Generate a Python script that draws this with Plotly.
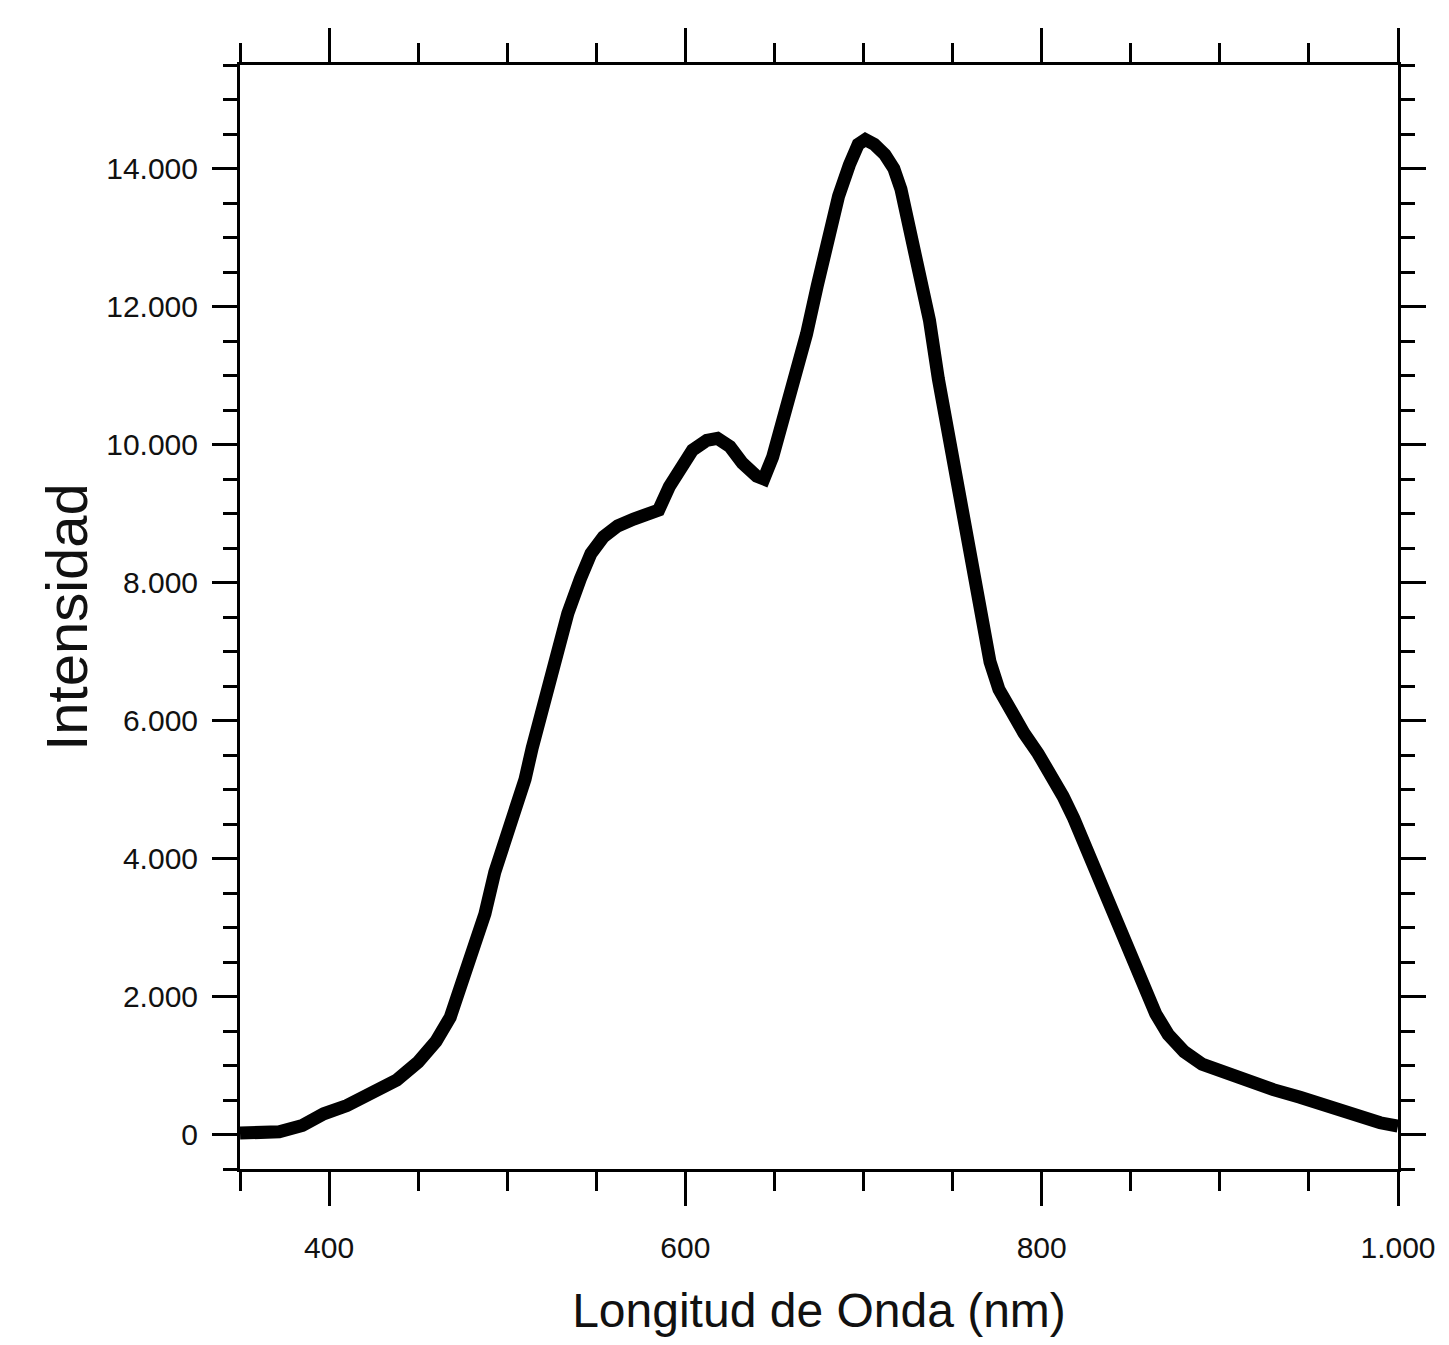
import plotly.graph_objects as go

# Wavelength (nm) and intensity
wavelength = [350, 360, 372, 385, 397, 410, 420, 438, 450, 460, 468, 475, 481, 487.5,
              493, 499, 505, 510, 514, 519, 524, 529, 534, 541, 547, 554, 562, 571,
              580, 585, 591, 597, 604, 612, 618, 625, 632, 640, 644, 649, 655, 662,
              668, 674, 680, 686, 692, 697, 701, 706, 712, 717, 721, 726, 731, 737,
              742, 747, 752, 757, 762, 766, 771, 776, 783, 790, 798, 806, 812, 818,
              825, 833, 840, 848, 856, 864, 871, 880, 890, 900, 915, 930, 945, 960,
              975, 990, 1000]
intensity = [20, 10, 40, 130, 300, 420, 560, 790, 1050, 1350, 1700, 2200, 2700, 3200,
             3800, 4250, 4800, 5150, 5600, 6100, 6600, 7100, 7550, 8050, 8420, 8660, 8820, 8920,
             8980, 9050, 9390, 9680, 9920, 10060, 10090, 9970, 9730, 9540, 9500, 9820, 10400, 10950,
             11600, 12300, 13000, 13600, 14050, 14350, 14420, 14350, 14200, 14000, 13700, 13150, 12550, 11800,
             10950, 10250, 9500, 8700, 8000, 7450, 6850, 6450, 6100, 5820, 5520, 5200, 4900, 4580,
             4150, 3640, 3150, 2650, 2150, 1750, 1450, 1200, 1020, 920, 780, 650, 540, 410,
             280, 170, 120]

x_title = "Longitud de Onda (nm)"
y_title = "Intensidad"

FONT = "Liberation Sans, Arial, sans-serif"
tick_font = dict(family=FONT, size=30, color="#111111")

fig = go.Figure()
fig.add_trace(go.Scatter(
    x=wavelength, y=intensity, mode="lines",
    line=dict(color="black", width=13),
    showlegend=False,
))

axis_common = dict(
    showline=True, linecolor="black", linewidth=3,
    mirror="ticks", ticks="outside", tickcolor="black", tickwidth=3,
    showgrid=False, zeroline=False, tickfont=tick_font, automargin=False,
)

fig.update_xaxes(
    **axis_common,
    range=[350, 1000], tick0=0, dtick=200, ticklen=34,
    tickformat=",.0f",
    minor=dict(dtick=50, tick0=0, ticklen=19, tickwidth=3, tickcolor="black", ticks="outside", showgrid=False),
    title=dict(text=x_title, font=dict(family=FONT, size=48, color="#111111"), standoff=44),
    ticklabelstandoff=16,
)
fig.update_yaxes(
    **axis_common,
    range=[-500, 15500], tick0=0, dtick=2000, ticklen=25,
    tickformat=",.0f",
    minor=dict(dtick=500, tick0=0, ticklen=14, tickwidth=3, tickcolor="black", ticks="outside", showgrid=False),
    title=dict(text=y_title, font=dict(family=FONT, size=58, color="#111111"), standoff=0),
    ticklabelstandoff=8,
)

fig.update_layout(
    width=1433, height=1329,
    margin=dict(l=232, r=43, t=57, b=168),
    paper_bgcolor="white", plot_bgcolor="white",
    separators=",.",
)

fig.write_html("out.html")
